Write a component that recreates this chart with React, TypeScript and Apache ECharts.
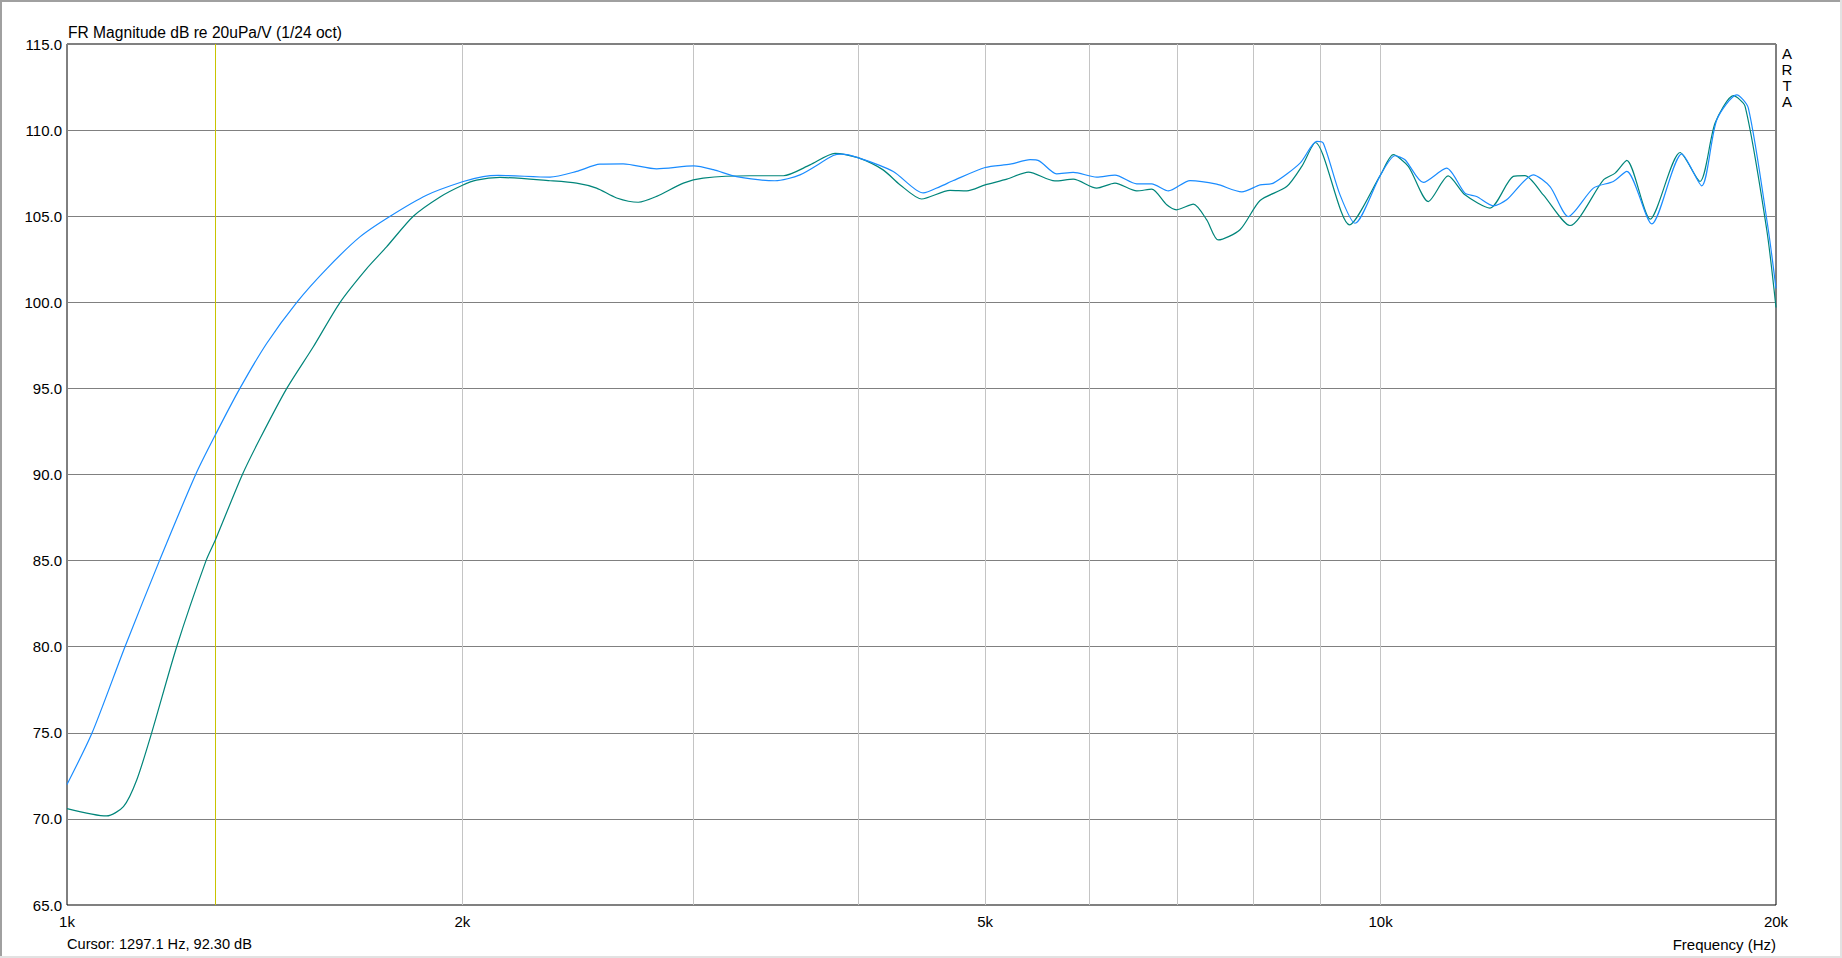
import React, { useEffect, useRef } from 'react';
import * as echarts from 'echarts';

// ---- data ----
const blueFreq = [
  1000, 1045, 1107, 1176, 1253, 1297, 1354, 1419, 1496, 1577, 1671, 1762, 1878, 2000, 2074, 2130, 2332,
  2443, 2545, 2651, 2811, 3000, 3105, 3234, 3459, 3614, 3831, 3888, 4000, 4256, 4486, 4620, 4729,
  5000, 5224, 5410, 5500, 5667, 5835, 6080, 6278, 6522, 6695, 6894, 7161, 7503, 7841, 8096, 8287,
  8684, 8942, 9045, 9314, 9561, 10000, 10256, 10437, 10778, 11227, 11594, 11834, 12183, 12473,
  13067, 13459, 13896, 14521, 15038, 15397, 16088, 16955, 17558, 18029, 18671, 19054, 19733, 20000,
];
const blueDb = [
  72.0, 75.0, 80.0, 85.0, 90.0, 92.3, 95.0, 97.61, 100.0, 101.96, 103.8, 105.0, 106.22, 107.0, 107.3, 107.37, 107.27,
  107.6, 108.02, 108.04, 107.75, 107.92, 107.7, 107.3, 107.06, 107.4, 108.52, 108.6, 108.4, 107.6, 106.35, 106.72, 107.07,
  107.83, 108.02, 108.28, 108.2, 107.46, 107.54, 107.27, 107.38, 106.88, 106.88, 106.47, 107.07, 106.86, 106.41, 106.82, 106.92,
  108.08, 109.34, 109.24, 106.24, 104.59, 107.4, 108.51, 108.28, 106.96, 107.79, 106.34, 106.14, 105.6, 105.95,
  107.4, 106.72, 104.98, 106.63, 107.02, 107.6, 104.55, 108.62, 106.76, 110.6, 112.05, 111.28, 104.2, 100.8,
];
const greenFreq = [
  1000, 1072, 1104, 1130, 1160, 1212, 1276, 1297, 1360, 1403, 1470, 1540, 1614, 1691, 1751, 1835, 1923, 2000, 2050,
  2136, 2332, 2443, 2530, 2621, 2722, 2811, 2946, 3050, 3311, 3510, 3678, 3843, 4000, 4181, 4306,
  4473, 4702, 4842, 5000, 5194, 5394, 5650, 5835, 6080, 6278, 6522, 6695, 6874, 6993, 7202, 7373,
  7524, 7816, 8096, 8483, 8710, 8920, 9470, 10000, 10225, 10498, 10872, 11259, 11594, 12114, 12618,
  12880, 13301, 13938, 14780, 15085, 15397, 16040, 16905, 17506, 17975, 18558, 18945, 19679, 20000,
];
const greenDb = [
  70.6, 70.17, 70.71, 72.26, 75.0, 80.0, 85.0, 86.2, 90.0, 92.1, 95.0, 97.42, 100.0, 101.96, 103.22, 105.0, 106.12, 106.8, 107.1,
  107.25, 107.06, 106.92, 106.63, 106.06, 105.81, 106.15, 106.92, 107.21, 107.35, 107.35, 107.98, 108.65, 108.4, 107.69, 106.83,
  106.0, 106.5, 106.47, 106.82, 107.15, 107.56, 107.05, 107.15, 106.63, 106.92, 106.47, 106.57, 105.66, 105.37, 105.7, 104.79,
  103.62, 104.21, 105.91, 106.72, 107.89, 109.28, 104.5, 107.4, 108.57, 107.89, 105.85, 107.34, 106.24, 105.47, 107.31,
  107.36, 106.24, 104.46, 107.11, 107.5, 108.24, 104.83, 108.7, 107.02, 110.41, 112.0, 111.38, 104.2, 99.7,
];
const gridFreqs = [1000, 2000, 3000, 4000, 5000, 6000, 7000, 8000, 9000, 10000, 20000];
const tickFreqs = [1000, 2000, 5000, 10000, 20000];
const tickLabels = ['1k', '2k', '5k', '10k', '20k'];
const yMin = 65;
const yMax = 115;
const yStep = 5;
const freqMin = 1000;
const freqMax = 20000;
const cursorFreq = 1297.1;
const titleText = 'FR Magnitude dB re 20uPa/V (1/24 oct)';
const cursorText = 'Cursor: 1297.1 Hz, 92.30 dB';
const xAxisName = 'Frequency (Hz)';
const brandLetters = ['A', 'R', 'T', 'A'];

const FONT = "'Liberation Sans', Arial, sans-serif";

export default function App() {
  const ref = useRef<HTMLDivElement>(null);

  useEffect(() => {
    document.body.style.margin = '0';
    document.body.style.overflow = 'hidden';
    const el = ref.current;
    if (!el) return;
    const chart = echarts.init(el, undefined, { renderer: 'svg' });

    const markData: any[] = gridFreqs.map((f) => {
      const ti = tickFreqs.indexOf(f);
      const edge = f === freqMin || f === freqMax;
      return {
        xAxis: f,
        lineStyle: { color: edge ? 'rgba(0,0,0,0)' : '#c4c4c4', width: 1, type: 'solid' },
        label: {
          show: ti >= 0,
          formatter: ti >= 0 ? tickLabels[ti] : '',
          position: 'start',
          distance: 9,
          color: '#000',
          fontSize: 15,
          fontFamily: FONT,
        },
      };
    });
    markData.push({
      xAxis: cursorFreq,
      lineStyle: { color: '#c8c400', width: 1, type: 'solid' },
      label: { show: false },
    });

    chart.setOption({
      animation: false,
      backgroundColor: '#fff',
      textStyle: { fontFamily: FONT },
      grid: {
        left: 67,
        top: 44,
        right: 66,
        bottom: 53,
        show: true,
        borderColor: '#000',
        borderWidth: 1,
        backgroundColor: '#fff',
        containLabel: false,
      },
      xAxis: {
        type: 'log',
        logBase: 10,
        min: freqMin,
        max: freqMax,
        axisLine: { show: false },
        axisTick: { show: false },
        axisLabel: { show: false },
        splitLine: { show: false },
      },
      yAxis: {
        type: 'value',
        min: yMin,
        max: yMax,
        interval: yStep,
        axisLine: { show: false },
        axisTick: { show: false },
        axisLabel: {
          formatter: (v: number) => v.toFixed(1),
          color: '#000',
          fontSize: 15,
          fontFamily: FONT,
          margin: 5,
        },
        splitLine: { show: true, lineStyle: { color: '#808080', width: 1 } },
      },
      series: [
        {
          name: 'green',
          type: 'line',
          data: greenFreq.map((f, i) => [f, greenDb[i]]),
          showSymbol: false,
          smooth: 0.25,
          z: 2,
          lineStyle: { color: '#00857a', width: 1.2 },
          markLine: {
            silent: true,
            symbol: ['none', 'none'],
            z: 1,
            animation: false,
            data: markData,
          },
        },
        {
          name: 'blue',
          type: 'line',
          data: blueFreq.map((f, i) => [f, blueDb[i]]),
          showSymbol: false,
          smooth: 0.25,
          z: 3,
          lineStyle: { color: '#1a8cff', width: 1.2 },
        },
      ],
      graphic: [
        { type: 'line', shape: { x1: 0, y1: 1, x2: 1842, y2: 1 }, style: { stroke: '#a0a0a0', lineWidth: 2 } },
        { type: 'line', shape: { x1: 1, y1: 0, x2: 1, y2: 958 }, style: { stroke: '#a0a0a0', lineWidth: 2 } },
        { type: 'line', shape: { x1: 1841, y1: 0, x2: 1841, y2: 958 }, style: { stroke: '#e2e2e2', lineWidth: 2 } },
        { type: 'line', shape: { x1: 0, y1: 957, x2: 1842, y2: 957 }, style: { stroke: '#e2e2e2', lineWidth: 2 } },
        {
          type: 'text',
          x: 68,
          y: 32,
          style: { text: titleText, fill: '#000', font: `15.6px ${FONT}`, textVerticalAlign: 'middle' },
        },
        {
          type: 'text',
          x: 67,
          y: 944,
          style: { text: cursorText, fill: '#000', font: `14.6px ${FONT}`, textVerticalAlign: 'middle' },
        },
        {
          type: 'text',
          x: 1776,
          y: 944,
          style: { text: xAxisName, fill: '#000', font: `15px ${FONT}`, textAlign: 'right', textVerticalAlign: 'middle' },
        },
        ...brandLetters.map((ch, i) => ({
          type: 'text',
          x: 1787,
          y: 53 + i * 16,
          style: { text: ch, fill: '#000', font: `15px ${FONT}`, textAlign: 'center', textVerticalAlign: 'middle' },
        })),
      ],
    });

    return () => chart.dispose();
  }, []);

  return <div ref={ref} style={{ width: 1842, height: 958 }} />;
}
